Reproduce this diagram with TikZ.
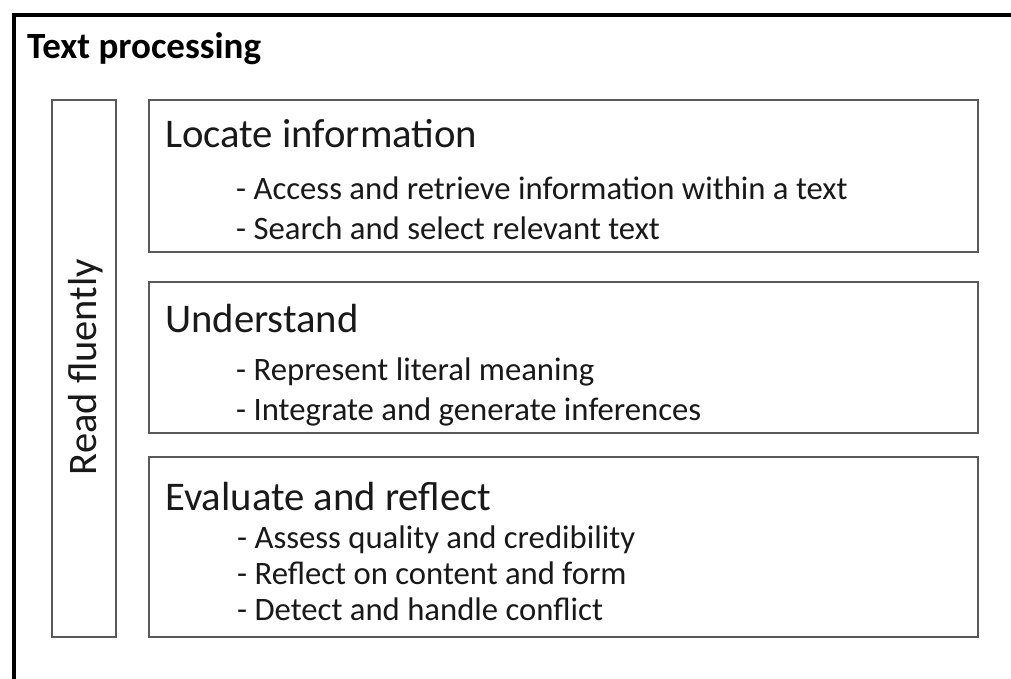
\documentclass[tikz,border=0pt]{standalone}
\usepackage{fontspec}
\setmainfont{Carlito}
\begin{document}
\begin{tikzpicture}[x=1pt,y=-1pt,
  box/.style={draw=black!65,line width=2pt},
  frame/.style={draw=black,line width=4pt},
  head/.style={anchor=base west,inner sep=0pt,font=\fontsize{40.7}{48}\selectfont,text=black!90},
  item/.style={anchor=base west,inner sep=0pt,font=\fontsize{32.7}{38}\selectfont,text=black!90},
  title/.style={anchor=base west,inner sep=0pt,font=\fontsize{37}{44}\selectfont\bfseries,text=black}]
\useasboundingbox (0,0) rectangle (1011,679);
\fill[white] (0,0) rectangle (1011,679);
% outer frame (cut by the page)
\draw[frame] (13.5,700) -- (13.5,15) -- (1030,15);
\node[title] (title) at (27,59) {Text processing};
% read fluently box
\draw[box] (52,100) rectangle (116,637);
\node[rotate=90,inner sep=0pt,font=\fontsize{40.5}{48}\selectfont,text=black!90] (rf) at (86,367) {Read fluently};
% boxes
\draw[box] (149,100) rectangle (978,252);
\draw[box] (149,282) rectangle (978,433);
\draw[box] (149,457) rectangle (978,637);
\node[head] (h1) at (165,148) {Locate information};
\node[item] (i11) at (236,199) {- Access and retrieve information within a text};
\node[item] (i12) at (236,239) {- Search and select relevant text};
\node[head] (h2) at (165,332) {Understand};
\node[item] (i21) at (236,380) {- Represent literal meaning};
\node[item] (i22) at (236,420) {- Integrate and generate inferences};
\node[head] (h3) at (165,510) {Evaluate and reflect};
\node[item] (i31) at (237,548) {- Assess quality and credibility};
\node[item] (i32) at (237,584) {- Reflect on content and form};
\node[item] (i33) at (237,620) {- Detect and handle conflict};
\end{tikzpicture}
\end{document}
